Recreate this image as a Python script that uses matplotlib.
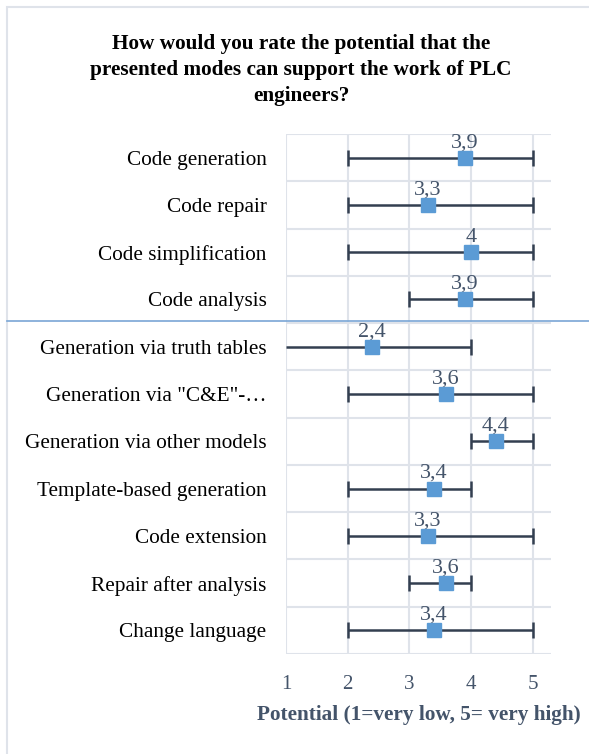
import matplotlib
matplotlib.use("Agg")
import matplotlib.pyplot as plt
from matplotlib.patches import Rectangle
from matplotlib.lines import Line2D

categories = ["Code generation", "Code repair", "Code simplification", "Code analysis",
              "Generation via truth tables", "Generation via \"C&E\"-\u2026",
              "Generation via other models", "Template-based generation",
              "Code extension", "Repair after analysis", "Change language"]
means = [3.9, 3.3, 4.0, 3.9, 2.4, 3.6, 4.4, 3.4, 3.3, 3.6, 3.4]
mins = [2, 2, 2, 3, 1, 2, 4, 2, 2, 3, 2]
maxs = [5, 5, 5, 5, 4, 5, 5, 4, 5, 4, 5]
labels = ["3,9", "3,3", "4", "3,9", "2,4", "3,6", "4,4", "3,4", "3,3", "3,6", "3,4"]
xticks = [1, 2, 3, 4, 5]

plt.rcParams['font.family'] = ['Liberation Serif', 'DejaVu Serif']

W, H = 589, 754
fig = plt.figure(figsize=(W/100, H/100), dpi=100)
ax = fig.add_axes([286/W, 1-654/H, (551-286)/W, (654-134)/H])

grid_c = "#dfe3ea"
err_c = "#333f50"
mark_c = "#5b9bd5"
txt_c = "#44546a"
xmin = 1

y = list(range(len(categories)))
xerr = [[m - lo for m, lo in zip(means, mins)], [hi - m for m, hi in zip(means, maxs)]]
ax.errorbar(means, y, xerr=xerr, fmt='none', ecolor=err_c, elinewidth=1.8,
            capsize=0, zorder=3)
cap_x = [v for v in mins if v > xmin] + maxs
cap_y = [yy for v, yy in zip(mins, y) if v > xmin] + y
ax.plot(cap_x, cap_y, linestyle='none', marker='|', markersize=11,
        markeredgewidth=1.8, color=err_c, zorder=3)
ax.plot(means, y, linestyle='none', marker='s', markersize=9.5, color=mark_c, zorder=4)
for m, yy, lab in zip(means, y, labels):
    ax.annotate(lab, (m, yy), xytext=(0, 4), textcoords='offset points',
                ha='center', va='bottom', fontsize=16, color=txt_c)

ax.set_xlim(xmin, 5.3)
ax.set_ylim(len(categories)-0.5, -0.5)
ax.set_xticks(xticks)
ax.set_yticks(y)
ax.set_yticklabels(categories)
ax.set_yticks([i + 0.5 for i in range(-1, len(categories))], minor=True)
ax.grid(True, axis='x', color=grid_c, linewidth=1.5)
ax.grid(True, axis='y', which='minor', color=grid_c, linewidth=1.5)
ax.grid(False, axis='y', which='major')
ax.set_axisbelow(True)
for s in ax.spines.values():
    s.set_visible(False)
ax.tick_params(axis='both', which='both', length=0)
ax.tick_params(axis='y', labelsize=15.3, pad=14, labelcolor='black')
ax.tick_params(axis='x', labelsize=15, pad=15, labelcolor=txt_c)
ax.set_xlabel("Potential (1=very low, 5= very high)", fontsize=15.3,
              fontweight='bold', color=txt_c, labelpad=8)

fig.text(301/W, 1-34/H, "How would you rate the potential that the\npresented modes can support the work of PLC\nengineers?",
         ha='center', va='top', fontsize=15.3, fontweight='bold', linespacing=1.4)

# separator line
fig.add_artist(Line2D([7/W, 1], [1-321/H, 1-321/H], color="#7aa6d6", linewidth=1.2))
# border
fig.add_artist(Rectangle((7/W, -0.01), 1.0, 1-7/H+0.01, fill=False,
                         edgecolor="#dfe3ea", linewidth=1.5))

fig.savefig("out.png", dpi=100)
